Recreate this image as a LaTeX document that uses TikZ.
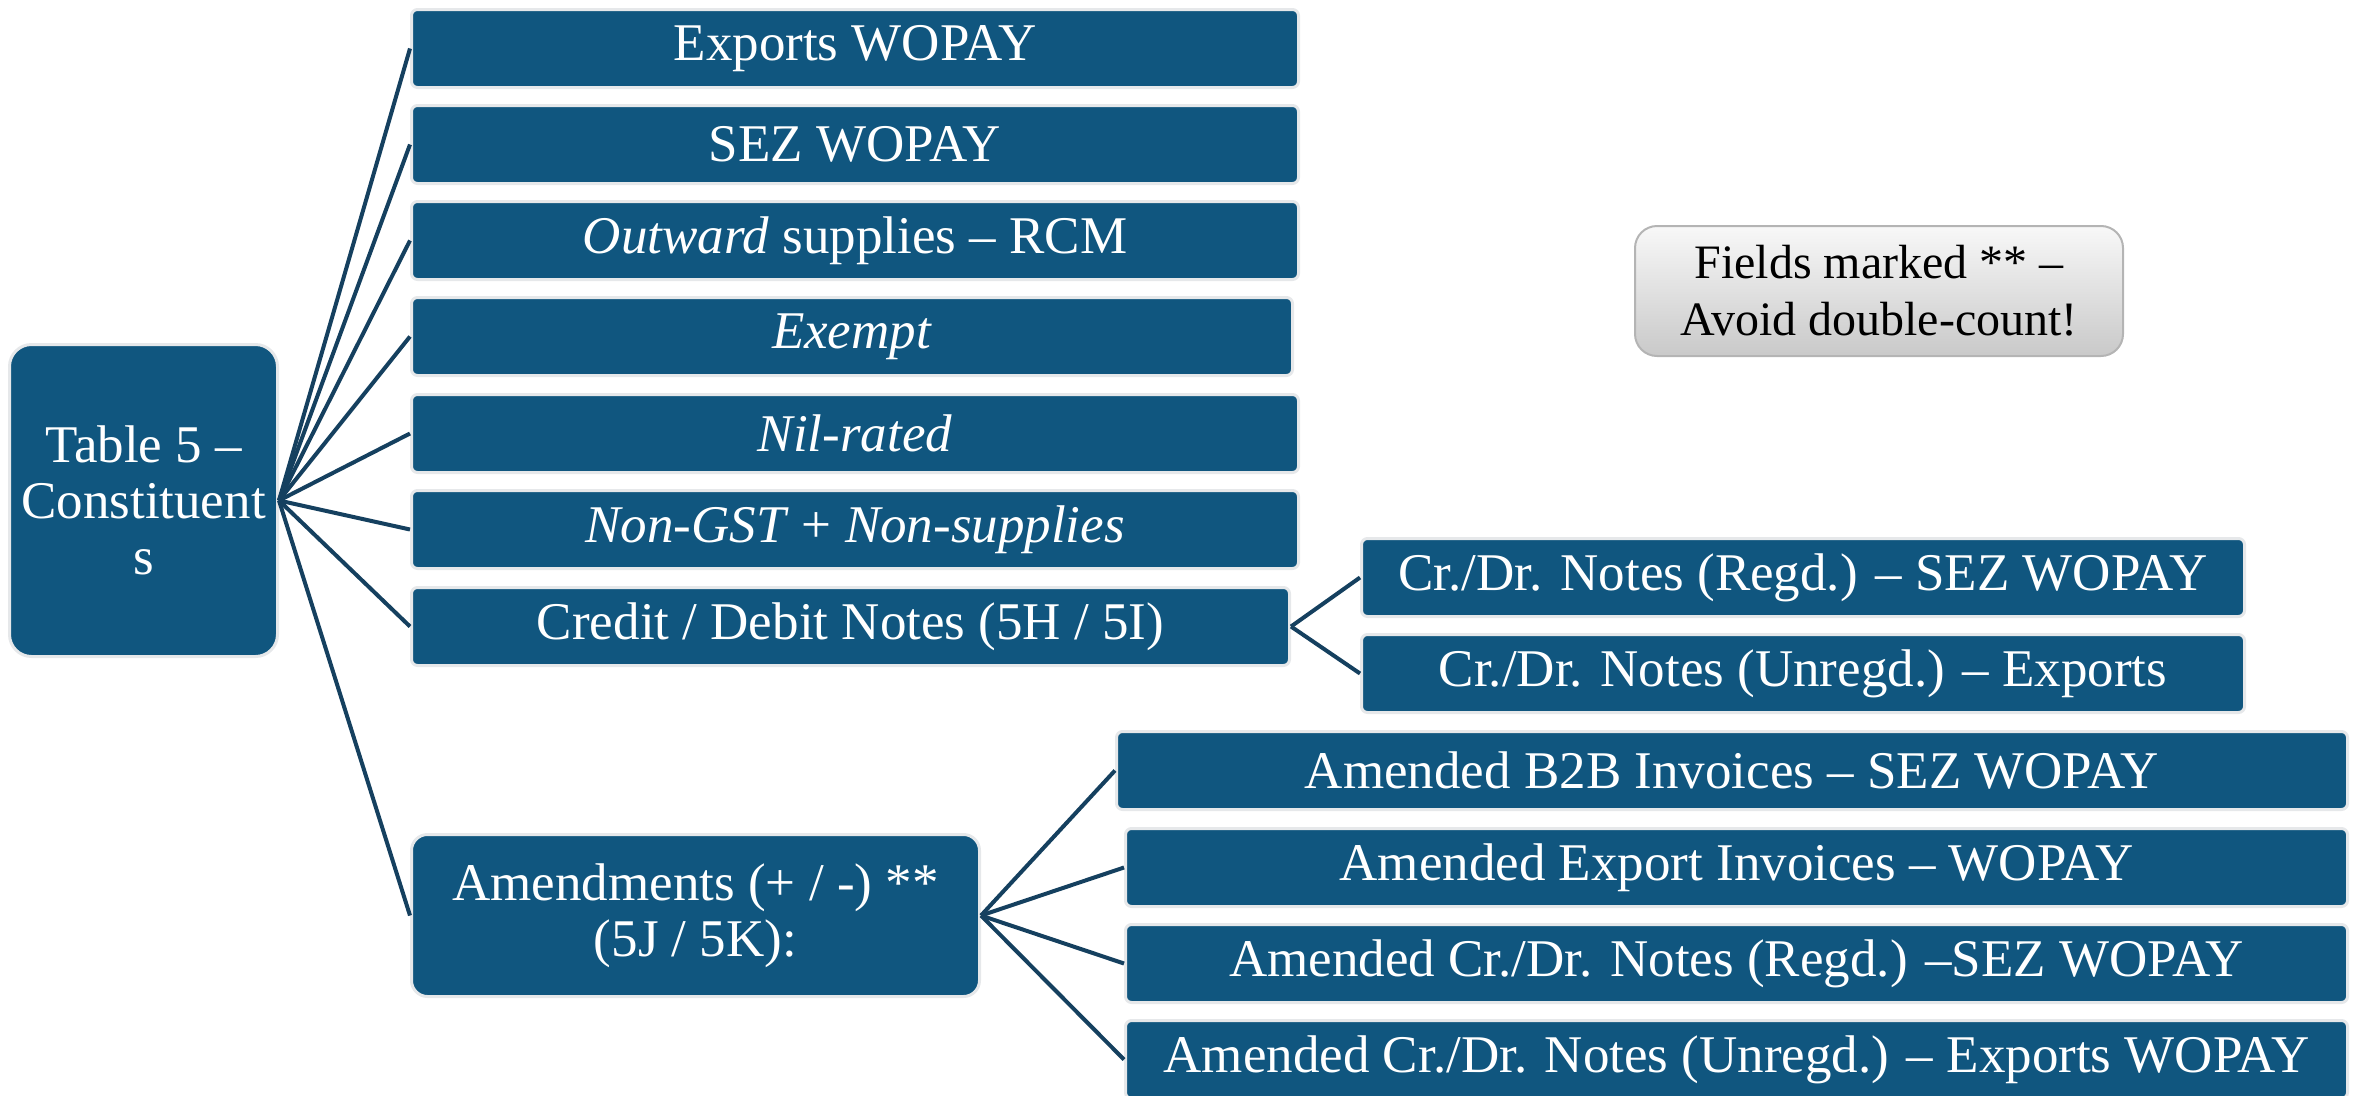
\documentclass[tikz,border=0pt]{standalone}
\usepackage{fontspec}
\setmainfont{Liberation Serif}
\definecolor{boxblue}{HTML}{10567F}
\definecolor{boxedge}{HTML}{E6E8EA}
\definecolor{linkblue}{HTML}{15405F}
\definecolor{notetop}{HTML}{F8F8F8}
\definecolor{notebot}{HTML}{C9C9C9}
\definecolor{noteedge}{HTML}{B4B4B4}
\begin{document}
\begin{tikzpicture}[x=1pt,y=-1pt,
  item/.style={draw=boxedge, line width=3pt, fill=boxblue, rounded corners=6pt,
    text=white, font=\fontsize{53}{56}\selectfont, inner sep=0pt,
    anchor=north west, minimum height=78pt},
  note/.style={draw=noteedge, line width=2pt, top color=notetop, bottom color=notebot,
    rounded corners=22pt, text=black, font=\fontsize{48}{57}\selectfont,
    inner sep=0pt, anchor=north west, align=center},
  link/.style={draw=linkblue, line width=4pt}]
\useasboundingbox (0,0) rectangle (2357,1095);

\node[item, rounded corners=22pt, minimum width=268pt, minimum height=312pt, align=center] (root) at (8,343) {Table 5 –\\Constituent\\s};

\node[item, minimum width=887pt] (e1) at (410,8) {Exports WOPAY};
\node[item, minimum width=887pt] (e2) at (410,104) {SEZ WOPAY};
\node[item, minimum width=887pt] (e3) at (410,200) {\textit{Outward} supplies – RCM};
\node[item, minimum width=881pt] (e4) at (410,296) {\textit{Exempt}};
\node[item, minimum width=887pt] (e5) at (410,393) {\textit{Nil-rated}};
\node[item, minimum width=887pt] (e6) at (410,489) {\textit{Non-GST} + \textit{Non-supplies}};
\node[item, minimum width=878pt] (e7) at (410,586) {Credit / Debit Notes (5H / 5I)};
\node[item, rounded corners=16pt, minimum width=568pt, minimum height=162pt, align=center] (e8) at (410,833) {Amendments (+ / -) **\\(5J / 5K):};

\node[item, minimum width=883pt] (c1) at (1360,537) {Cr./Dr. Notes (Regd.) – SEZ WOPAY};
\node[item, minimum width=883pt] (c2) at (1360,633) {Cr./Dr. Notes (Unregd.) – Exports};

\node[item, minimum width=1231pt] (a1) at (1115,730) {Amended B2B Invoices – SEZ WOPAY};
\node[item, minimum width=1222pt] (a2) at (1124,827) {Amended Export Invoices – WOPAY};
\node[item, minimum width=1222pt] (a3) at (1124,923) {Amended Cr./Dr. Notes (Regd.) –SEZ WOPAY};
\node[item, minimum width=1222pt] (a4) at (1124,1019) {Amended Cr./Dr. Notes (Unregd.) – Exports WOPAY};

\node[note, minimum width=488pt, minimum height=130pt] (note) at (1634,225) {Fields marked ** –\\Avoid double-count!};

\foreach \t in {e1,e2,e3,e4,e5,e6,e7,e8} \draw[link] (root.east) -- (\t.west);
\foreach \t in {c1,c2} \draw[link] (e7.east) -- (\t.west);
\foreach \t in {a1,a2,a3,a4} \draw[link] (e8.east) -- (\t.west);
\end{tikzpicture}
\end{document}
